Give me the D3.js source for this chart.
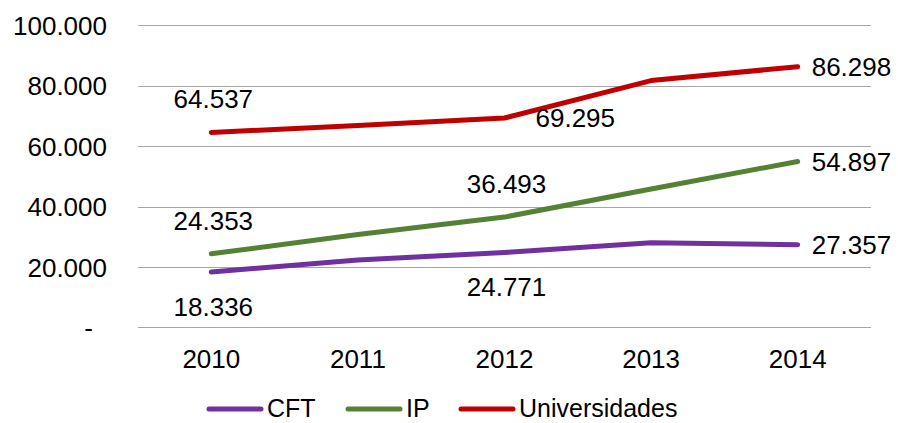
<!DOCTYPE html>
<html>
<head>
<meta charset="utf-8">
<script src="https://cdn.jsdelivr.net/npm/d3@7"></script>
<style>
  html, body { margin: 0; padding: 0; background: #fff; }
  svg { display: block; font-family: "Liberation Sans", Arial, sans-serif; }
</style>
</head>
<body>
<svg id="chart" width="898" height="423"></svg>
<script>
// ---- data ----
const years = ["2010", "2011", "2012", "2013", "2014"];
const seriesNames = ["CFT", "IP", "Universidades"];
const cftValues = [18336, 22300, 24771, 28000, 27357];
const ipValues = [24353, 30700, 36493, 45800, 54897];
const uniValues = [64537, 66800, 69295, 81700, 86298];
const yTickValues = [0, 20000, 40000, 60000, 80000, 100000];
const yTickLabels = ["-", "20.000", "40.000", "60.000", "80.000", "100.000"];
const seriesColors = ["#7030A0", "#548235", "#C00000"];
// label placement per point (null = no label)
const cftLabelPos = ["below", null, "below", null, "right"];
const ipLabelPos = ["above", null, "above", null, "right"];
const uniLabelPos = ["above", null, "right", null, "right"];

const fmt = v => d3.format(",")(v).replace(/,/g, ".");

const svg = d3.select("#chart");
const margin = { left: 138, right: 27, top: 25.3, bottom: 95.7 };
const W = 898, H = 423;
const x = d3.scaleBand().domain(years).range([margin.left, W - margin.right]);
const y = d3.scaleLinear().domain([0, 100000]).range([H - margin.bottom, margin.top]);
const cx = d => x(d) + x.bandwidth() / 2;

// gridlines
svg.append("g").selectAll("line").data(yTickValues).join("line")
  .attr("x1", margin.left).attr("x2", W - margin.right)
  .attr("y1", d => Math.round(y(d)) + 0.5).attr("y2", d => Math.round(y(d)) + 0.5)
  .attr("stroke", "#A6A6A6").attr("stroke-width", 1.2);

// y axis labels
const yAxis = d3.axisLeft(y).tickValues(yTickValues)
  .tickFormat((d, i) => yTickLabels[i]).tickSize(0).tickPadding(0);
const gy = svg.append("g").attr("transform", "translate(107,0)").call(yAxis);
gy.select(".domain").remove();
gy.selectAll("text").attr("font-size", 26).attr("fill", "#000")
  .attr("font-family", "'Liberation Sans', Arial, sans-serif")
  .attr("dx", d => d === 0 ? -14 : 0)
  .attr("dy", "0.35em");

// x axis labels
const xAxis = d3.axisBottom(x).tickSize(0).tickPadding(0);
const gx = svg.append("g").attr("transform", `translate(0,${H - margin.bottom})`).call(xAxis);
gx.select(".domain").remove();
gx.selectAll("text").attr("font-size", 26).attr("fill", "#000")
  .attr("font-family", "'Liberation Sans', Arial, sans-serif")
  .attr("y", 41).attr("dy", 0);

// series
const series = [
  { name: seriesNames[0], values: cftValues, color: seriesColors[0], pos: cftLabelPos },
  { name: seriesNames[1], values: ipValues, color: seriesColors[1], pos: ipLabelPos },
  { name: seriesNames[2], values: uniValues, color: seriesColors[2], pos: uniLabelPos }
];

const line = d3.line().x((d, i) => cx(years[i])).y(d => y(d));

svg.append("g").selectAll("path").data(series).join("path")
  .attr("d", s => line(s.values))
  .attr("fill", "none")
  .attr("stroke", s => s.color)
  .attr("stroke-width", 5)
  .attr("stroke-linecap", "round")
  .attr("stroke-linejoin", "round");

// data labels
const labelData = [];
series.forEach(s => s.values.forEach((v, i) => {
  if (s.pos[i]) labelData.push({ v, i, pos: s.pos[i] });
}));
svg.append("g").selectAll("text").data(labelData).join("text")
  .attr("font-size", 26).attr("fill", "#000")
  .attr("x", d => {
    const px = cx(years[d.i]);
    if (d.pos === "right") return px + (d.i === 4 ? 14 : 31);
    return px + 2;
  })
  .attr("y", d => {
    const py = y(d.v);
    if (d.pos === "above") return py - 24;
    if (d.pos === "below") return py + 44;
    return py + 9;
  })
  .attr("text-anchor", d => d.pos === "right" ? "start" : "middle")
  .text(d => fmt(d.v));

// legend
const legendX = [209, 348, 461];
const lg = svg.append("g").selectAll("g").data(series).join("g")
  .attr("transform", (d, i) => `translate(${legendX[i]},409)`);
lg.append("line").attr("x1", 0).attr("x2", 52).attr("y1", 0).attr("y2", 0)
  .attr("stroke", d => d.color).attr("stroke-width", 5).attr("stroke-linecap", "round");
lg.append("text").attr("x", 58).attr("y", 8).attr("font-size", 25).attr("fill", "#000")
  .text(d => d.name);
</script>
</body>
</html>
